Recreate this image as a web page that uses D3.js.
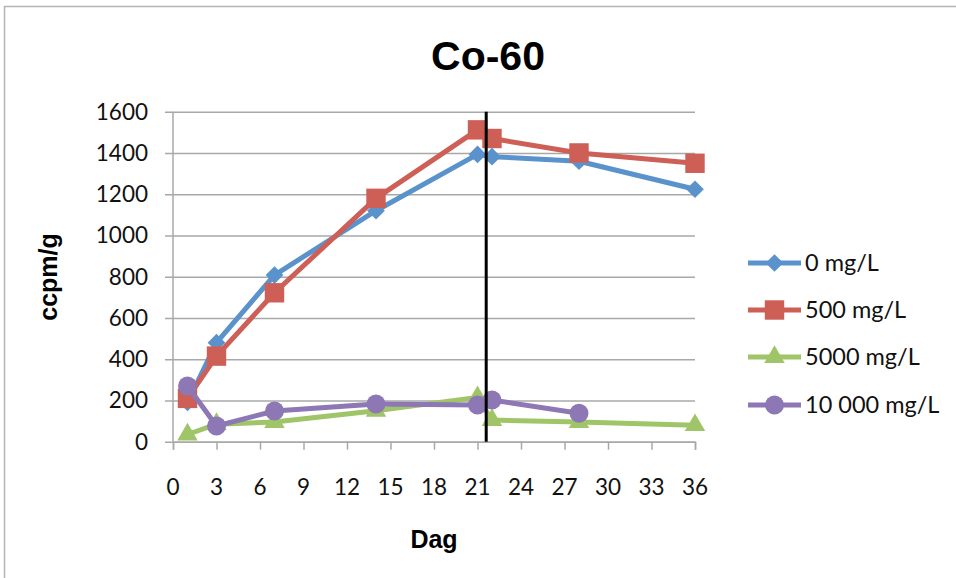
<!DOCTYPE html>
<html>
<head>
<meta charset="utf-8">
<script src="https://cdn.jsdelivr.net/npm/d3@7"></script>
<style>
  html, body { margin: 0; padding: 0; background: #fff; }
  svg { display: block; }
</style>
</head>
<body>
<svg id="chart" width="956" height="578"></svg>
<script>
// Sampling days and activity per salt concentration
const days = [1, 3, 7, 14, 21, 22, 28, 36];
const seriesNames = ["0 mg/L", "500 mg/L", "5000 mg/L", "10 000 mg/L"];
const values0 = [190, 480, 808, 1120, 1393, 1382, 1360, 1224];
const values500 = [210, 415, 722, 1180, 1512, 1470, 1400, 1350];
const values5000 = [35, 85, 95, 150, 215, 105, 95, 80];
const values10000 = [270, 76, 149, 183, 178, 202, 138, null];
const xTicks = [0, 3, 6, 9, 12, 15, 18, 21, 24, 27, 30, 33, 36];
const yTicks = [0, 200, 400, 600, 800, 1000, 1200, 1400, 1600];
const dividerDay = 21.6;

const colors = ["#5a93cc", "#cd5f57", "#a0c568", "#8d77b4"];
const symbols = [d3.symbolDiamond2, d3.symbolSquare2, d3.symbolTriangle2, d3.symbolCircle];
const symbolSizes = [200, 480, 300, 280];
const allValues = [values0, values500, values5000, values10000];

const svg = d3.select("#chart");
const W = 956, H = 578;

// Outer chart frame
svg.append("rect")
  .attr("x", 4.5).attr("y", 6.5)
  .attr("width", W + 10).attr("height", H + 10)
  .attr("fill", "#fff").attr("stroke", "#b4b4b4").attr("stroke-width", 1.5);

const x = d3.scaleLinear().domain([0, 36]).range([173, 695]);
const y = d3.scaleLinear().domain([0, 1600]).range([441.7, 111.7]);

const tickFont = "Lato, 'Open Sans', sans-serif";
const titleFont = "'Liberation Sans', Arial, sans-serif";

// Horizontal gridlines with outward ticks
const yAxis = d3.axisLeft(y).tickValues(yTicks).tickSize(695 - 165).tickPadding(0).tickFormat(d => d);
const gy = svg.append("g").attr("transform", "translate(695,0)").call(yAxis);
gy.select(".domain").remove();
gy.selectAll(".tick line").attr("stroke", "#a8a8a8").attr("stroke-width", 1.5);
gy.selectAll(".tick text").remove();
svg.append("g").selectAll("text").data(yTicks).join("text")
  .attr("x", 148).attr("y", d => y(d)).attr("dy", "0.35em")
  .attr("text-anchor", "end")
  .attr("font-family", tickFont).attr("font-size", 22.5).attr("fill", "#111")
  .text(d => d);

// Vertical axis line
svg.append("line")
  .attr("x1", x(0)).attr("x2", x(0)).attr("y1", y(1600)).attr("y2", y(0))
  .attr("stroke", "#a8a8a8").attr("stroke-width", 1.5);

// X axis
const xAxis = d3.axisBottom(x).tickValues(xTicks).tickSize(8).tickPadding(0).tickFormat(d => d);
const gx = svg.append("g").attr("transform", `translate(0,${y(0)})`).call(xAxis);
gx.select(".domain").attr("stroke", "#a8a8a8").attr("stroke-width", 1.5);
gx.selectAll(".tick line").attr("stroke", "#a8a8a8").attr("stroke-width", 1.5);
gx.selectAll(".tick text").remove();
svg.append("g").selectAll("text").data(xTicks).join("text")
  .attr("x", d => x(d)).attr("y", 487).attr("dy", "0.35em")
  .attr("text-anchor", "middle")
  .attr("font-family", tickFont).attr("font-size", 22.5).attr("fill", "#111")
  .text(d => d);

// Series lines and markers
const line = d3.line()
  .defined(d => d.v != null)
  .x(d => x(d.day)).y(d => y(d.v));

allValues.forEach((vals, i) => {
  const pts = days.map((day, j) => ({ day, v: vals[j] }));
  const g = svg.append("g");
  g.append("path").datum(pts)
    .attr("d", line).attr("fill", "none")
    .attr("stroke", colors[i]).attr("stroke-width", 5)
    .attr("stroke-linejoin", "round");
  g.selectAll("path.m").data(pts.filter(d => d.v != null)).join("path")
    .attr("class", "m")
    .attr("transform", d => `translate(${x(d.day)},${y(d.v)})`)
    .attr("d", d3.symbol().type(symbols[i]).size(symbolSizes[i]))
    .attr("fill", colors[i]);
});

// Divider line
svg.append("line")
  .attr("x1", x(dividerDay)).attr("x2", x(dividerDay))
  .attr("y1", y(1600)).attr("y2", y(0))
  .attr("stroke", "#000").attr("stroke-width", 3);

// Legend
const legendY = [263, 310, 357, 405];
seriesNames.forEach((name, i) => {
  const g = svg.append("g").attr("transform", `translate(0,${legendY[i]})`);
  g.append("line").attr("x1", 748).attr("x2", 801).attr("y1", 0).attr("y2", 0)
    .attr("stroke", colors[i]).attr("stroke-width", 5);
  g.append("path").attr("transform", "translate(774.5,0)")
    .attr("d", d3.symbol().type(symbols[i]).size(symbolSizes[i]))
    .attr("fill", colors[i]);
  g.append("text").attr("x", 805).attr("y", 0).attr("dy", "0.35em")
    .attr("font-family", tickFont).attr("font-size", 23.5).attr("fill", "#111")
    .text(name);
});

// Titles
svg.append("text").attr("x", 488).attr("y", 56).attr("dy", "0.35em")
  .attr("text-anchor", "middle")
  .attr("font-family", titleFont)
  .attr("font-weight", "bold").attr("font-size", 41).attr("fill", "#000")
  .text("Co-60");

svg.append("text").attr("x", 434).attr("y", 539).attr("dy", "0.35em")
  .attr("text-anchor", "middle")
  .attr("font-family", titleFont)
  .attr("font-weight", "bold").attr("font-size", 25).attr("fill", "#000")
  .text("Dag");

svg.append("text")
  .attr("transform", "translate(48,277) rotate(-90)")
  .attr("dy", "0.35em").attr("text-anchor", "middle")
  .attr("font-family", titleFont)
  .attr("font-weight", "bold").attr("font-size", 25).attr("fill", "#000")
  .text("ccpm/g");
</script>
</body>
</html>
